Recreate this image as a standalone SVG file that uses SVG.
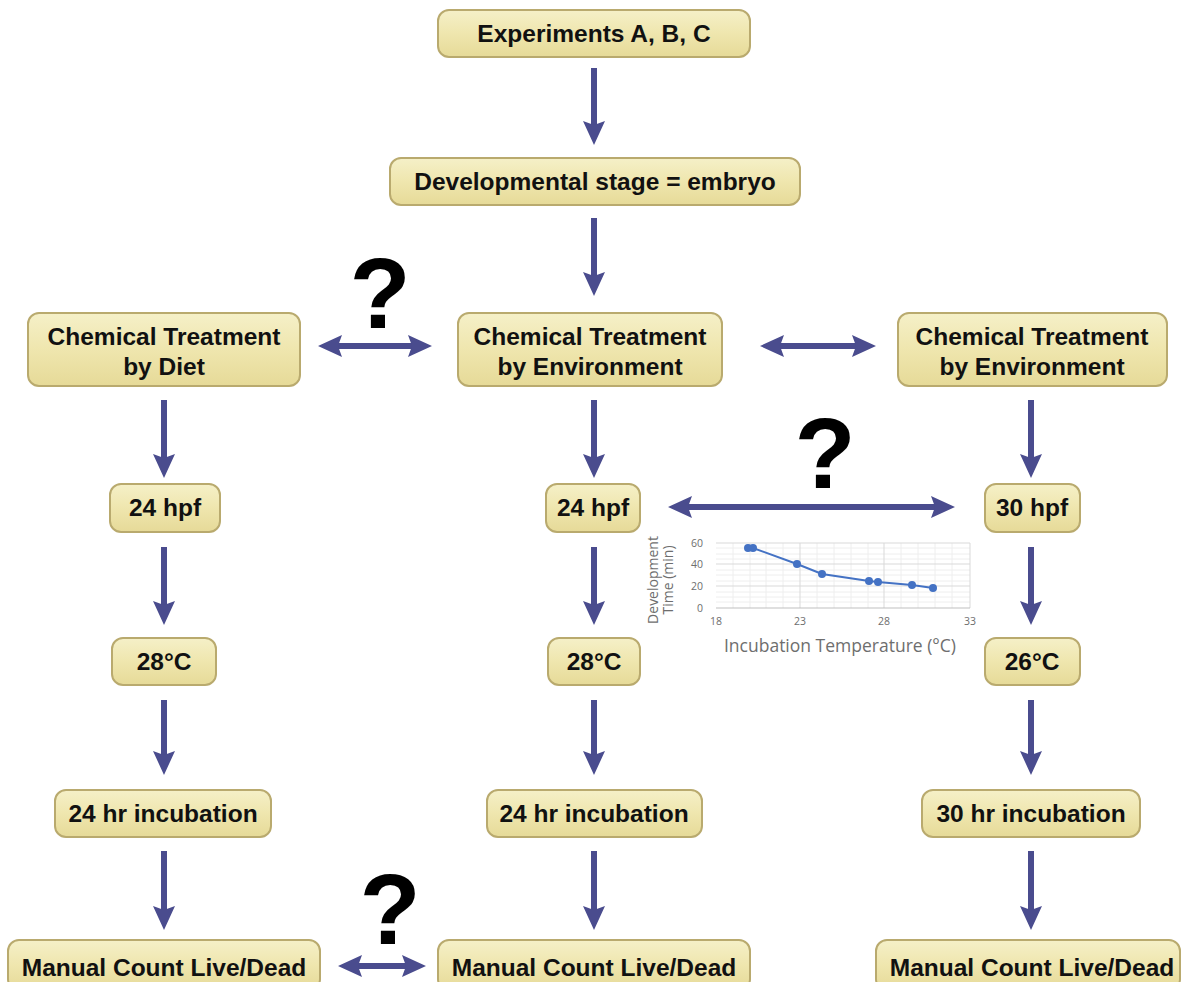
<svg xmlns="http://www.w3.org/2000/svg" width="1185" height="982" viewBox="0 0 1185 982">
<style>
.box{fill:url(#g);stroke:#B9AA6E;stroke-width:2}
.t{font-family:"Liberation Sans",Arial,sans-serif;font-weight:bold;font-size:24.5px;fill:#111;text-anchor:middle}
.q{font-family:"Liberation Sans",Arial,sans-serif;font-weight:bold;font-size:100px;fill:#000;text-anchor:middle}
.a{stroke:#4A4C8E;stroke-width:6;fill:none}
.ax{font-family:"Open Sans","Liberation Sans",sans-serif;fill:#6E6E6E}
.gm{stroke:#D9D9D9;stroke-width:1}
.gn{stroke:#EEEEEE;stroke-width:1}
</style>
<defs>
<linearGradient id="g" x1="0" y1="0" x2="0" y2="1">
<stop offset="0" stop-color="#F5F0C8"/>
<stop offset="0.5" stop-color="#EFE6AE"/>
<stop offset="1" stop-color="#E6DA98"/>
</linearGradient>
<marker id="ah" viewBox="0 0 24 22" refX="12" refY="11" markerWidth="24" markerHeight="22" markerUnits="userSpaceOnUse" orient="auto-start-reverse">
<path d="M0,0 L24,11 L0,22 L4,11 z" fill="#4A4C8E"/>
</marker>
</defs>
<rect width="1185" height="982" fill="#fff"/>

<g id="connectors">
<line class="a" x1="594" y1="68" x2="594" y2="133" marker-end="url(#ah)"/>
<line class="a" x1="594" y1="218" x2="594" y2="284" marker-end="url(#ah)"/>
<line class="a" x1="330" y1="346" x2="420" y2="346" marker-start="url(#ah)" marker-end="url(#ah)"/>
<line class="a" x1="772" y1="346" x2="864" y2="346" marker-start="url(#ah)" marker-end="url(#ah)"/>
<line class="a" x1="164" y1="400" x2="164" y2="466" marker-end="url(#ah)"/>
<line class="a" x1="594" y1="400" x2="594" y2="466" marker-end="url(#ah)"/>
<line class="a" x1="1031" y1="400" x2="1031" y2="466" marker-end="url(#ah)"/>
<line class="a" x1="680" y1="507" x2="943" y2="507" marker-start="url(#ah)" marker-end="url(#ah)"/>
<line class="a" x1="164" y1="547" x2="164" y2="613" marker-end="url(#ah)"/>
<line class="a" x1="594" y1="547" x2="594" y2="613" marker-end="url(#ah)"/>
<line class="a" x1="1031" y1="547" x2="1031" y2="613" marker-end="url(#ah)"/>
<line class="a" x1="164" y1="700" x2="164" y2="763" marker-end="url(#ah)"/>
<line class="a" x1="594" y1="700" x2="594" y2="763" marker-end="url(#ah)"/>
<line class="a" x1="1031" y1="700" x2="1031" y2="763" marker-end="url(#ah)"/>
<line class="a" x1="164" y1="851" x2="164" y2="918" marker-end="url(#ah)"/>
<line class="a" x1="594" y1="851" x2="594" y2="918" marker-end="url(#ah)"/>
<line class="a" x1="1031" y1="851" x2="1031" y2="918" marker-end="url(#ah)"/>
<line class="a" x1="350" y1="966" x2="414" y2="966" marker-start="url(#ah)" marker-end="url(#ah)"/>
</g>

<g id="questions">
<text class="q" x="380" y="328">?</text>
<text class="q" x="825" y="488">?</text>
<text class="q" x="390" y="944">?</text>
</g>

<g id="n-experiments"><rect class="box" x="438" y="10" width="312" height="47" rx="11"/><text class="t" x="594" y="42">Experiments A, B, C</text></g>
<g id="n-stage"><rect class="box" x="390" y="158" width="410" height="47" rx="11"/><text class="t" x="595" y="190">Developmental stage = embryo</text></g>
<g id="n-diet"><rect class="box" x="28" y="313" width="272" height="73" rx="11"/><text class="t" x="164" y="345">Chemical Treatment</text><text class="t" x="164" y="375">by Diet</text></g>
<g id="n-env-mid"><rect class="box" x="458" y="313" width="264" height="73" rx="11"/><text class="t" x="590" y="345">Chemical Treatment</text><text class="t" x="590" y="375">by Environment</text></g>
<g id="n-env-right"><rect class="box" x="898" y="313" width="269" height="73" rx="11"/><text class="t" x="1032" y="345">Chemical Treatment</text><text class="t" x="1032" y="375">by Environment</text></g>
<g id="n-24hpf-l"><rect class="box" x="110" y="484" width="110" height="48" rx="11"/><text class="t" x="165" y="516">24 hpf</text></g>
<g id="n-24hpf-m"><rect class="box" x="546" y="484" width="94" height="48" rx="11"/><text class="t" x="593" y="516">24 hpf</text></g>
<g id="n-30hpf-r"><rect class="box" x="985" y="484" width="95" height="48" rx="11"/><text class="t" x="1032" y="516">30 hpf</text></g>
<g id="n-28c-l"><rect class="box" x="112" y="638" width="104" height="47" rx="11"/><text class="t" x="164" y="670">28°C</text></g>
<g id="n-28c-m"><rect class="box" x="548" y="638" width="92" height="47" rx="11"/><text class="t" x="594" y="670">28°C</text></g>
<g id="n-26c-r"><rect class="box" x="985" y="638" width="95" height="47" rx="11"/><text class="t" x="1032" y="670">26°C</text></g>
<g id="n-inc-l"><rect class="box" x="55" y="790" width="216" height="47" rx="11"/><text class="t" x="163" y="822">24 hr incubation</text></g>
<g id="n-inc-m"><rect class="box" x="487" y="790" width="215" height="47" rx="11"/><text class="t" x="594" y="822">24 hr incubation</text></g>
<g id="n-inc-r"><rect class="box" x="922" y="790" width="218" height="47" rx="11"/><text class="t" x="1031" y="822">30 hr incubation</text></g>
<g id="n-count-l"><rect class="box" x="8" y="940" width="312" height="50" rx="11"/><text class="t" x="164" y="976">Manual Count Live/Dead</text></g>
<g id="n-count-m"><rect class="box" x="438" y="940" width="312" height="50" rx="11"/><text class="t" x="594" y="976">Manual Count Live/Dead</text></g>
<g id="n-count-r"><rect class="box" x="876" y="940" width="304" height="50" rx="11"/><text class="t" x="1032" y="976">Manual Count Live/Dead</text></g>

<g id="chart">
<g class="gn">
<line x1="716" y1="548" x2="970" y2="548"/><line x1="716" y1="554" x2="970" y2="554"/><line x1="716" y1="559" x2="970" y2="559"/>
<line x1="716" y1="570" x2="970" y2="570"/><line x1="716" y1="575" x2="970" y2="575"/><line x1="716" y1="581" x2="970" y2="581"/>
<line x1="716" y1="592" x2="970" y2="592"/><line x1="716" y1="597" x2="970" y2="597"/><line x1="716" y1="602" x2="970" y2="602"/>
<line x1="733" y1="543" x2="733" y2="608"/><line x1="750" y1="543" x2="750" y2="608"/><line x1="766" y1="543" x2="766" y2="608"/><line x1="783" y1="543" x2="783" y2="608"/>
<line x1="817" y1="543" x2="817" y2="608"/><line x1="834" y1="543" x2="834" y2="608"/><line x1="851" y1="543" x2="851" y2="608"/><line x1="868" y1="543" x2="868" y2="608"/>
<line x1="901" y1="543" x2="901" y2="608"/><line x1="918" y1="543" x2="918" y2="608"/><line x1="935" y1="543" x2="935" y2="608"/><line x1="952" y1="543" x2="952" y2="608"/>
</g>
<g class="gm">
<line x1="716" y1="543" x2="970" y2="543"/><line x1="716" y1="564" x2="970" y2="564"/><line x1="716" y1="586" x2="970" y2="586"/>
<line x1="800" y1="543" x2="800" y2="608"/><line x1="884" y1="543" x2="884" y2="608"/><line x1="970" y1="543" x2="970" y2="608"/>
</g>
<line x1="716" y1="608" x2="970" y2="608" stroke="#BFBFBF" stroke-width="1"/>
<g class="ax" font-size="10.5" text-anchor="end">
<text x="703" y="547">60</text><text x="703" y="568">40</text><text x="703" y="590">20</text><text x="703" y="612">0</text>
</g>
<g class="ax" font-size="10.5" text-anchor="middle">
<text x="716" y="625">18</text><text x="800" y="625">23</text><text x="884" y="625">28</text><text x="970" y="625">33</text>
</g>
<text class="ax" font-size="17.5" x="840" y="652" text-anchor="middle">Incubation Temperature (°C)</text>
<text class="ax" font-size="14" text-anchor="middle" transform="translate(658,580) rotate(-90)">Development</text>
<text class="ax" font-size="14" text-anchor="middle" transform="translate(673,580) rotate(-90)">Time (min)</text>
<polyline points="748,548 753,548 797,564 822,574 869,581 878,582 912,585 933,588" fill="none" stroke="#4472C4" stroke-width="2"/>
<g fill="#4472C4">
<circle cx="748" cy="548" r="4"/><circle cx="753" cy="548" r="4"/><circle cx="797" cy="564" r="4"/><circle cx="822" cy="574" r="4"/>
<circle cx="869" cy="581" r="4"/><circle cx="878" cy="582" r="4"/><circle cx="912" cy="585" r="4"/><circle cx="933" cy="588" r="4"/>
</g>
</g>
</svg>
